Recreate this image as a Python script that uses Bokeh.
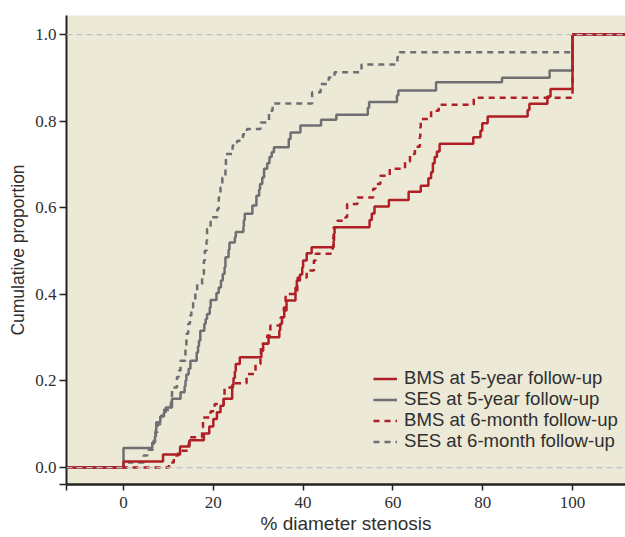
from bokeh.plotting import figure
from bokeh.models import Range1d, FixedTicker, Span, Legend, LegendItem, CustomJSTickFormatter
from bokeh.embed import file_html
from bokeh.resources import INLINE

# axis extents
x_lo, x_hi = -12.7, 111.8
y_lo, y_hi = -0.039, 1.044
x_ticks = [0, 20, 40, 60, 80, 100]
y_ticks = [0.0, 0.2, 0.4, 0.6, 0.8, 1.0]
x_title = "% diameter stenosis"
y_title = "Cumulative proportion"

# BMS at 5-year follow-up (step positions, cumulative proportion after step)
bms5_x = [0.0, 8.8, 12.6, 14.7, 17.9, 19.1, 20.0, 20.8, 21.6, 22.3, 24.2, 24.5, 24.8, 25.0, 25.9,
          30.7, 31.1, 32.3, 34.7, 34.9, 35.3, 35.8, 36.3, 38.3, 38.6, 39.3, 39.8, 40.0, 40.8, 41.9,
          46.8, 46.9, 47.0, 54.8, 55.3, 55.9, 59.1, 63.5, 66.2, 67.9, 68.5, 68.9, 69.3, 69.8, 70.4,
          77.9, 79.5, 79.9, 81.1, 90.0, 90.4, 94.4, 95.1, 100.0]
bms5_y = [0.014, 0.030, 0.049, 0.063, 0.079, 0.095, 0.112, 0.128, 0.143, 0.159, 0.191, 0.207, 0.223, 0.239, 0.255,
          0.270, 0.286, 0.301, 0.317, 0.332, 0.347, 0.363, 0.386, 0.416, 0.432, 0.446, 0.462, 0.478, 0.495, 0.509,
          0.524, 0.540, 0.555, 0.572, 0.587, 0.603, 0.618, 0.637, 0.651, 0.668, 0.682, 0.703, 0.717, 0.730, 0.748,
          0.763, 0.778, 0.795, 0.811, 0.826, 0.840, 0.857, 0.874, 1.0]

# SES at 5-year follow-up
ses5_x = [0.0, 6.4, 7.0, 7.2, 7.3, 8.2, 9.0, 9.4, 10.8, 12.7, 13.6, 13.8, 14.0, 14.5, 14.9,
          16.3, 16.6, 16.8, 17.1, 18.0, 18.3, 18.6, 19.2, 19.4, 20.7, 21.2, 21.7, 22.1, 22.5, 22.7,
          23.4, 23.6, 24.8, 25.0, 26.7, 26.8, 27.0, 28.7, 29.6, 30.2, 30.4, 30.9, 31.3, 32.0, 32.5,
          33.0, 33.5, 36.8, 37.2, 39.4, 44.0, 47.4, 54.4, 54.7, 60.9, 61.2, 69.6, 84.3, 94.9, 100.0]
ses5_y = [0.045, 0.058, 0.072, 0.088, 0.105, 0.118, 0.128, 0.139, 0.159, 0.174, 0.188, 0.201, 0.215, 0.228, 0.247,
          0.266, 0.280, 0.293, 0.316, 0.332, 0.343, 0.355, 0.370, 0.387, 0.403, 0.416, 0.432, 0.447, 0.463, 0.486,
          0.503, 0.520, 0.532, 0.544, 0.556, 0.571, 0.586, 0.605, 0.628, 0.642, 0.655, 0.670, 0.690, 0.703, 0.717,
          0.728, 0.740, 0.759, 0.774, 0.790, 0.803, 0.815, 0.831, 0.844, 0.859, 0.871, 0.890, 0.900, 0.917, 1.0]

# BMS at 6-month follow-up
bms6_x = [10.1, 11.2, 12.2, 14.5, 14.6, 17.5, 17.7, 19.4, 20.3, 22.3, 22.5, 24.4, 27.4, 29.4, 30.5,
          30.6, 32.0, 32.7, 35.0, 35.7, 36.1, 38.7, 38.8, 40.8, 42.4, 42.8, 46.6, 46.7, 46.8, 47.6,
          49.4, 49.8, 52.1, 55.6, 56.1, 57.2, 59.3, 62.7, 63.8, 64.9, 66.0, 66.1, 66.2, 68.5, 70.2,
          78.0, 100.0]
bms6_y = [0.012, 0.028, 0.039, 0.055, 0.070, 0.093, 0.116, 0.130, 0.147, 0.166, 0.185, 0.195, 0.216, 0.239, 0.262,
          0.286, 0.305, 0.328, 0.347, 0.370, 0.401, 0.424, 0.439, 0.455, 0.478, 0.494, 0.509, 0.532, 0.555, 0.570,
          0.578, 0.609, 0.624, 0.644, 0.655, 0.674, 0.690, 0.707, 0.724, 0.741, 0.764, 0.786, 0.805, 0.824, 0.838,
          0.854, 1.0]

# SES at 6-month follow-up
ses6_x = [1.0, 4.5, 5.3, 6.5, 6.7, 7.1, 7.6, 8.2, 8.6, 10.5, 10.6, 10.8, 11.9, 12.3, 12.7,
          13.8, 14.0, 14.4, 14.8, 15.1, 15.5, 16.0, 16.4, 17.5, 17.9, 18.1, 18.5, 18.6, 19.4, 20.9,
          21.2, 21.6, 22.0, 22.7, 22.8, 24.3, 25.3, 26.6, 27.5, 30.5, 32.4, 33.2, 42.0, 43.9, 45.7,
          47.0, 53.0, 61.0, 61.5, 100.0]
ses6_y = [0.012, 0.028, 0.041, 0.052, 0.062, 0.082, 0.100, 0.118, 0.133, 0.147, 0.165, 0.185, 0.209, 0.224, 0.247,
          0.278, 0.309, 0.332, 0.351, 0.370, 0.386, 0.405, 0.424, 0.447, 0.478, 0.501, 0.524, 0.551, 0.578, 0.597,
          0.624, 0.647, 0.670, 0.694, 0.724, 0.744, 0.755, 0.770, 0.782, 0.797, 0.824, 0.841, 0.867, 0.886, 0.901,
          0.913, 0.931, 0.948, 0.959, 1.0]

labels = ["BMS at 5-year follow-up", "SES at 5-year follow-up",
          "BMS at 6-month follow-up", "SES at 6-month follow-up"]

RED = "#B01E26"
GRAY = "#6E6F72"
BG = "#ECE9D7"
TXT = "#2F2F2F"
FONT = "Liberation Sans"
NARROW = "Liberation Sans Narrow"

p = figure(width=625, height=537, output_backend="svg", toolbar_location=None,
           x_range=Range1d(x_lo, x_hi), y_range=Range1d(y_lo, y_hi),
           min_border_left=66, min_border_right=0, min_border_top=15, min_border_bottom=53)
p.background_fill_color = BG
p.border_fill_color = "white"
p.outline_line_color = None
p.grid.visible = False

for yv in (0.0, 1.0):
    p.add_layout(Span(location=yv, dimension="width", line_color="#BFBFC4",
                      line_width=1.2, line_dash="6 4"))

def steps(xs, ys):
    return [x_lo] + xs + [x_hi], [0.0] + ys + [ys[-1]]

sx, sy = steps(ses6_x, ses6_y)
r_ses6 = p.step(sx, sy, mode="after", line_color=GRAY, line_width=2.5, line_dash="6 5")
sx, sy = steps(ses5_x, ses5_y)
r_ses5 = p.step(sx, sy, mode="after", line_color=GRAY, line_width=2.5)
sx, sy = steps(bms5_x, bms5_y)
r_bms5 = p.step(sx, sy, mode="after", line_color=RED, line_width=2.5)
sx, sy = steps(bms6_x, bms6_y)
r_bms6 = p.step(sx, sy, mode="after", line_color=RED, line_width=2.5, line_dash="6 5")

# one legend per row so the row spacing matches
row_bottoms = [95, 74, 53, 32]
for lab, rend, yb in zip(labels, [r_bms5, r_ses5, r_bms6, r_ses6], row_bottoms):
    lg = Legend(items=[LegendItem(label=lab, renderers=[rend])],
                location=(307, yb), padding=0, margin=0, spacing=0,
                glyph_width=24, glyph_height=21, label_height=21, label_standoff=7,
                label_text_font=FONT, label_text_font_size="18.6px",
                label_text_color=TXT, background_fill_alpha=0, border_line_alpha=0)
    p.add_layout(lg)

# x axis
p.xaxis.ticker = FixedTicker(ticks=[x_lo] + x_ticks)
p.xaxis.formatter = CustomJSTickFormatter(code="return tick < -1 ? '' : tick.toFixed(0);")
p.xaxis.axis_label = x_title
p.xaxis.axis_label_text_font = FONT
p.xaxis.axis_label_text_font_size = "19px"
p.xaxis.axis_label_text_font_style = "normal"
p.xaxis.axis_label_text_color = TXT
p.xaxis.axis_label_standoff = 2
p.xaxis.major_label_text_font = NARROW
p.xaxis.major_label_text_font_size = "17px"
p.xaxis.major_label_text_color = TXT
p.xaxis.major_label_standoff = 6
p.xaxis.axis_line_width = 2.5
p.xaxis.axis_line_color = "#222222"
p.xaxis.major_tick_line_color = "#222222"
p.xaxis.major_tick_line_width = 1.5
p.xaxis.major_tick_out = 6
p.xaxis.major_tick_in = 0
p.xaxis.minor_tick_line_color = None

# y axis
p.yaxis.ticker = FixedTicker(ticks=[y_lo] + y_ticks)
p.yaxis.formatter = CustomJSTickFormatter(code="return tick < -0.01 ? '' : tick.toFixed(1);")
p.yaxis.axis_label = y_title
p.yaxis.axis_label_text_font = FONT
p.yaxis.axis_label_text_font_size = "17.5px"
p.yaxis.axis_label_text_font_style = "normal"
p.yaxis.axis_label_text_color = TXT
p.yaxis.axis_label_standoff = 4
p.yaxis.major_label_text_font = NARROW
p.yaxis.major_label_text_font_size = "17px"
p.yaxis.major_label_text_color = TXT
p.yaxis.major_label_standoff = 3
p.yaxis.axis_line_width = 2
p.yaxis.axis_line_color = "#222222"
p.yaxis.major_tick_line_color = "#222222"
p.yaxis.major_tick_line_width = 1.5
p.yaxis.major_tick_out = 7
p.yaxis.major_tick_in = 0
p.yaxis.minor_tick_line_color = None

open("out.html", "w").write(file_html(p, INLINE))
